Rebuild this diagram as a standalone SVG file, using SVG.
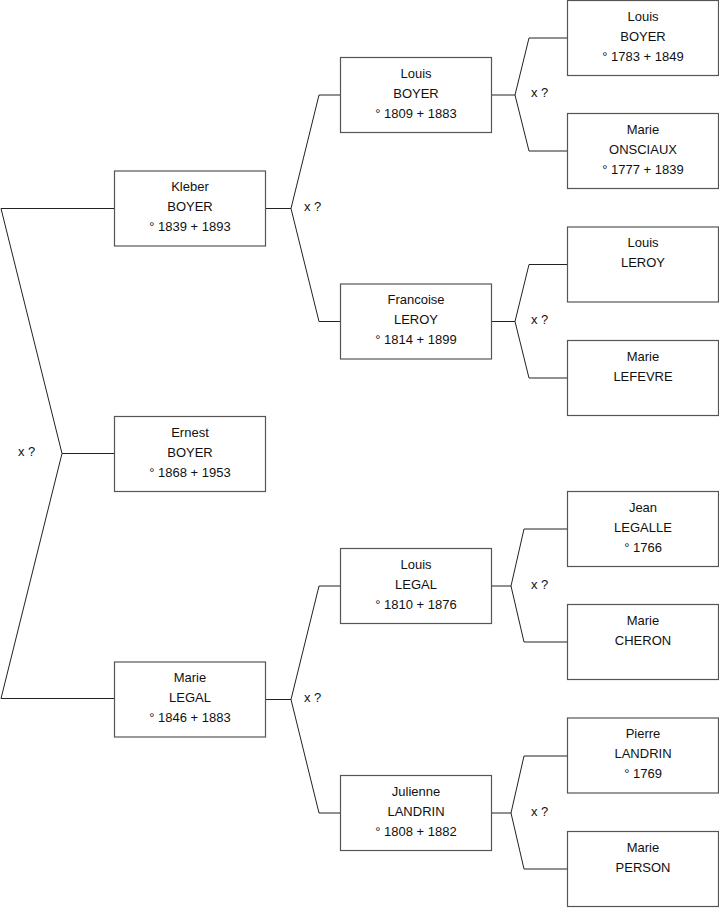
<svg xmlns="http://www.w3.org/2000/svg" width="719" height="908" viewBox="0 0 719 908">
<style>
.box{fill:#fff;stroke:#555;stroke-width:1.2}
.t{font-family:"Liberation Sans",Arial,sans-serif;font-size:13px;fill:#111;text-anchor:middle}
.x{font-family:"Liberation Sans",Arial,sans-serif;font-size:13px;fill:#111}
.c{fill:none;stroke:#222;stroke-width:1}
</style>
<rect width="719" height="908" fill="#fff"/>
<g id="connectors">
<path class="c" d="M114,208.5 H1 L62,453.5 L1,698.5 H114 M62,453.5 H114"/>
<path class="c" d="M265.5,208.5 H291 M340.5,95 H319 L291,208.5 L319,321.5 H340.5"/>
<path class="c" d="M265.5,699.5 H291 M340.5,586 H319 L291,699.5 L319,813 H340.5"/>
<path class="c" d="M491.5,95 H515 M567.5,38 H529 L515,95 L529,151 H567.5"/>
<path class="c" d="M491.5,321.5 H515 M567.5,264.5 H529 L515,321.5 L529,378 H567.5"/>
<path class="c" d="M491.5,586 H511 M567.5,529 H524 L511,586 L524,642 H567.5"/>
<path class="c" d="M491.5,813 H511 M567.5,756 H524 L511,813 L524,869 H567.5"/>
<text class="x" x="18" y="456">x ?</text>
<text class="x" x="304" y="211">x ?</text>
<text class="x" x="304" y="701.5">x ?</text>
<text class="x" x="531" y="96.5">x ?</text>
<text class="x" x="531" y="324">x ?</text>
<text class="x" x="531" y="589">x ?</text>
<text class="x" x="531" y="815.5">x ?</text>
</g>
<g id="kleber"><rect class="box" x="114.5" y="171" width="151" height="75"/><text class="t" x="190" y="191">Kleber</text><text class="t" x="190" y="211">BOYER</text><text class="t" x="190" y="231">° 1839 + 1893</text></g>
<g id="ernest"><rect class="box" x="114.5" y="416.5" width="151" height="75"/><text class="t" x="190" y="436.5">Ernest</text><text class="t" x="190" y="456.5">BOYER</text><text class="t" x="190" y="476.5">° 1868 + 1953</text></g>
<g id="marie-legal"><rect class="box" x="114.5" y="662" width="151" height="75"/><text class="t" x="190" y="682">Marie</text><text class="t" x="190" y="702">LEGAL</text><text class="t" x="190" y="722">° 1846 + 1883</text></g>
<g id="louis-boyer-1809"><rect class="box" x="340.5" y="57.5" width="151" height="75"/><text class="t" x="416" y="77.5">Louis</text><text class="t" x="416" y="97.5">BOYER</text><text class="t" x="416" y="117.5">° 1809 + 1883</text></g>
<g id="francoise-leroy"><rect class="box" x="340.5" y="284" width="151" height="75"/><text class="t" x="416" y="304">Francoise</text><text class="t" x="416" y="324">LEROY</text><text class="t" x="416" y="344">° 1814 + 1899</text></g>
<g id="louis-legal"><rect class="box" x="340.5" y="548.5" width="151" height="75"/><text class="t" x="416" y="568.5">Louis</text><text class="t" x="416" y="588.5">LEGAL</text><text class="t" x="416" y="608.5">° 1810 + 1876</text></g>
<g id="julienne-landrin"><rect class="box" x="340.5" y="775.5" width="151" height="75"/><text class="t" x="416" y="795.5">Julienne</text><text class="t" x="416" y="815.5">LANDRIN</text><text class="t" x="416" y="835.5">° 1808 + 1882</text></g>
<g id="louis-boyer-1783"><rect class="box" x="567.5" y="0.5" width="151" height="75"/><text class="t" x="643" y="20.5">Louis</text><text class="t" x="643" y="40.5">BOYER</text><text class="t" x="643" y="60.5">° 1783 + 1849</text></g>
<g id="marie-onsciaux"><rect class="box" x="567.5" y="113.5" width="151" height="75"/><text class="t" x="643" y="133.5">Marie</text><text class="t" x="643" y="153.5">ONSCIAUX</text><text class="t" x="643" y="173.5">° 1777 + 1839</text></g>
<g id="louis-leroy"><rect class="box" x="567.5" y="227" width="151" height="75"/><text class="t" x="643" y="247">Louis</text><text class="t" x="643" y="267">LEROY</text></g>
<g id="marie-lefevre"><rect class="box" x="567.5" y="340.5" width="151" height="75"/><text class="t" x="643" y="360.5">Marie</text><text class="t" x="643" y="380.5">LEFEVRE</text></g>
<g id="jean-legalle"><rect class="box" x="567.5" y="491.5" width="151" height="75"/><text class="t" x="643" y="511.5">Jean</text><text class="t" x="643" y="531.5">LEGALLE</text><text class="t" x="643" y="551.5">° 1766</text></g>
<g id="marie-cheron"><rect class="box" x="567.5" y="604.5" width="151" height="75"/><text class="t" x="643" y="624.5">Marie</text><text class="t" x="643" y="644.5">CHERON</text></g>
<g id="pierre-landrin"><rect class="box" x="567.5" y="718" width="151" height="75"/><text class="t" x="643" y="738">Pierre</text><text class="t" x="643" y="758">LANDRIN</text><text class="t" x="643" y="778">° 1769</text></g>
<g id="marie-person"><rect class="box" x="567.5" y="831.5" width="151" height="75"/><text class="t" x="643" y="851.5">Marie</text><text class="t" x="643" y="871.5">PERSON</text></g>
</svg>
